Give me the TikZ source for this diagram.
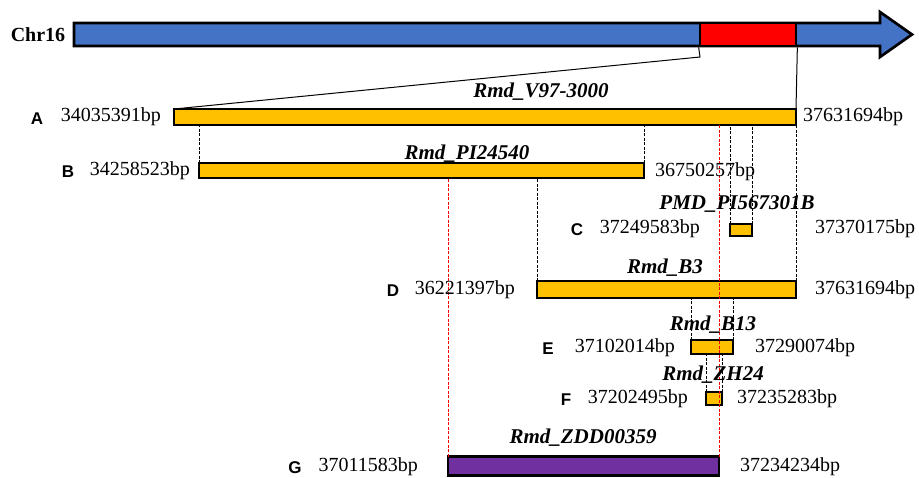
\documentclass[tikz,border=0pt]{standalone}
\usepackage{fontspec}
\setmainfont{Liberation Serif}
\newfontfamily\lsans{Liberation Sans}
\definecolor{barY}{HTML}{FFC000}
\definecolor{barP}{HTML}{7030A0}
\definecolor{chrB}{HTML}{4472C4}
\begin{document}
\begin{tikzpicture}[x=1pt,y=-1pt,
  bar/.style={draw=black, line width=2.7pt, fill=barY, inner sep=0pt, outer sep=0pt},
  num/.style={font=\fontsize{20}{20}\selectfont, inner sep=0pt},
  lett/.style={font=\lsans\bfseries\fontsize{17}{17}\selectfont, inner sep=0pt},
  ttl/.style={font=\bfseries\itshape\fontsize{21}{21}\selectfont, inner sep=0pt},
  guide/.style={black, line width=1pt, dash pattern=on 3pt off 1.5pt},
  redguide/.style={red, line width=1pt, dash pattern=on 3pt off 1.5pt},
  link/.style={black, line width=1pt}]
\useasboundingbox (0,0) rectangle (919,477);
% chromosome
\node[font=\bfseries\fontsize{20}{20}\selectfont, inner sep=0pt] (chr) at (38,35) {Chr16};
\draw[line width=2.7pt, fill=chrB, line join=miter] (74,23) -- (880,23) -- (880,12) -- (912,34.5) -- (880,57) -- (880,46) -- (74,46) -- cycle;
\node[draw=black, line width=2.7pt, fill=red, inner sep=0pt, minimum width=96pt, minimum height=23pt] (R) at (748,34.5) {};
\coordinate (bend) at (700,57);
% bars
\node[bar, minimum width=622pt, minimum height=16pt] (A) at (485,117) {};
\node[bar, minimum width=445pt, minimum height=15pt] (B) at (421.5,170.5) {};
\node[bar, minimum width=22pt, minimum height=12pt] (C) at (741,230) {};
\node[bar, minimum width=259pt, minimum height=17pt] (D) at (666.5,289.5) {};
\node[bar, minimum width=42pt, minimum height=14pt] (E) at (712,347) {};
\node[bar, minimum width=16pt, minimum height=13pt] (F) at (714,398.5) {};
\node[bar, fill=barP, minimum width=271pt, minimum height=19pt] (G) at (583.5,466) {};
% links from chromosome
\draw[link] (R.south west) -- (bend) -- (A.north west);
\draw[link] (R.south east) -- (A.north east);
% guides
\draw[guide] (B.north west) -- (B.north west |- A.south);
\draw[guide] (B.north east) -- (B.north east |- A.south);
\draw[guide] (C.north west) -- (C.north west |- A.south);
\draw[guide] (C.north east) -- (C.north east |- A.south);
\draw[guide] (D.north east) -- (D.north east |- A.south);
\draw[guide] (D.north west) -- (D.north west |- B.south);
\draw[guide] (E.north west) -- (E.north west |- D.south);
\draw[guide] (E.north east) -- (E.north east |- D.south);
\draw[guide] (F.north west) -- (F.north west |- E.south);
\draw[guide] (F.north east) -- (F.north east |- E.south);
\draw[redguide] (G.north west) -- (G.north west |- B.south);
\draw[redguide] (G.north east) -- (G.north east |- A.south);
% titles
\node[ttl] (tA) at (541,92) {Rmd\_V97-3000};
\node[ttl] (tB) at (467,154) {Rmd\_PI24540};
\node[ttl] (tC) at (737,204) {PMD\_PI567301B};
\node[ttl] (tD) at (665,268) {Rmd\_B3};
\node[ttl] (tE) at (713,325) {Rmd\_B13};
\node[ttl] (tF) at (713,375) {Rmd\_ZH24};
\node[ttl] (tG) at (583,438) {Rmd\_ZDD00359};
% letters
\node[lett] (lA) at (37,119) {A};
\node[lett] (lB) at (68,172) {B};
\node[lett] (lC) at (577,230) {C};
\node[lett] (lD) at (393,291) {D};
\node[lett] (lE) at (548,349) {E};
\node[lett] (lF) at (566,400) {F};
\node[lett] (lG) at (295,468) {G};
% numbers
\node[num, anchor=east] (nA1) at (161,117) {34035391bp};
\node[num, anchor=west] (nA2) at (803,117) {37631694bp};
\node[num, anchor=east] (nB1) at (190,171) {34258523bp};
\node[num, anchor=west] (nB2) at (655,172) {36750257bp};
\node[num, anchor=east] (nC1) at (700,229) {37249583bp};
\node[num, anchor=west] (nC2) at (815,229) {37370175bp};
\node[num, anchor=east] (nD1) at (515,290) {36221397bp};
\node[num, anchor=west] (nD2) at (815,290) {37631694bp};
\node[num, anchor=east] (nE1) at (675,348) {37102014bp};
\node[num, anchor=west] (nE2) at (755,348) {37290074bp};
\node[num, anchor=east] (nF1) at (688,399) {37202495bp};
\node[num, anchor=west] (nF2) at (737,399) {37235283bp};
\node[num, anchor=east] (nG1) at (418,467) {37011583bp};
\node[num, anchor=west] (nG2) at (740,467) {37234234bp};
\end{tikzpicture}
\end{document}
